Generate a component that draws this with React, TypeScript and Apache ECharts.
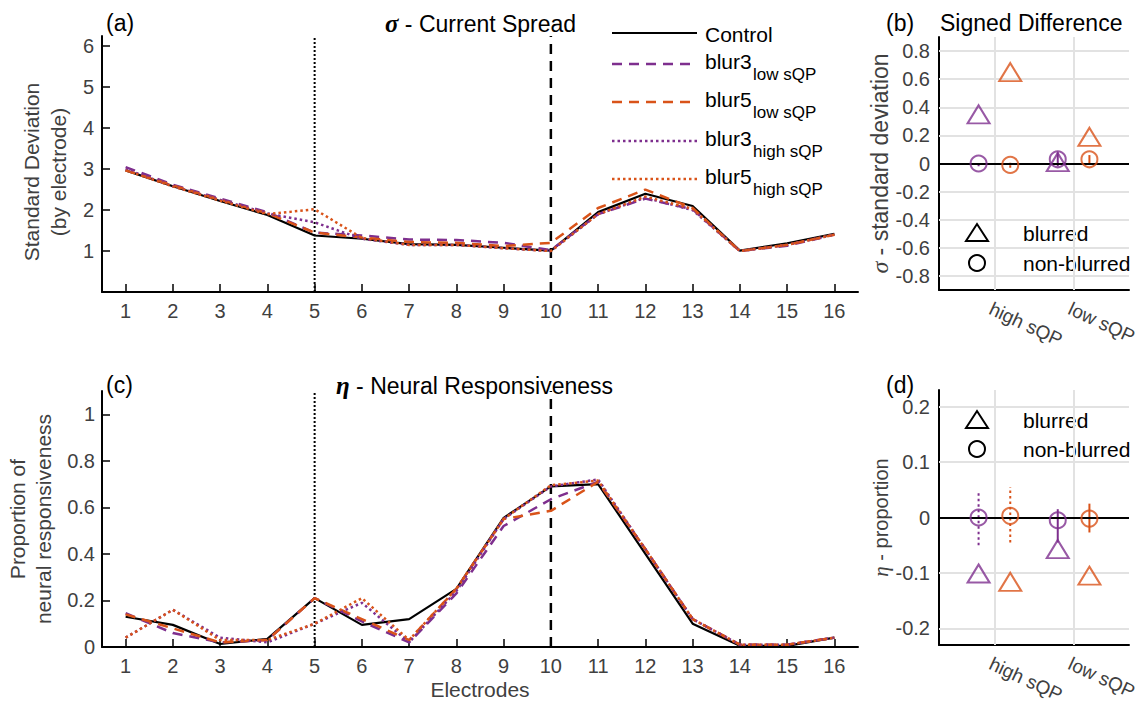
import React, { useEffect, useRef } from "react";
import * as echarts from "echarts";

// ---------- data ----------
const electrodes = [1, 2, 3, 4, 5, 6, 7, 8, 9, 10, 11, 12, 13, 14, 15, 16];
const refElectrodes = [5, 10];

const sigmaControl = [2.97, 2.58, 2.22, 1.88, 1.38, 1.3, 1.17, 1.15, 1.08, 1.01, 1.95, 2.4, 2.1, 1.01, 1.19, 1.42];
const sigmaBlur3Low = [3.05, 2.62, 2.28, 1.95, 1.45, 1.38, 1.28, 1.27, 1.2, 1.02, 1.9, 2.28, 2.02, 1.0, 1.13, 1.4];
const sigmaBlur5Low = [2.97, 2.6, 2.25, 1.92, 1.45, 1.33, 1.22, 1.2, 1.12, 1.2, 2.05, 2.5, 2.05, 1.0, 1.15, 1.4];
const sigmaBlur3High = [3.0, 2.58, 2.25, 1.92, 1.7, 1.3, 1.15, 1.15, 1.07, 1.0, 1.9, 2.3, 2.0, 1.0, 1.15, 1.4];
const sigmaBlur5High = [2.97, 2.58, 2.23, 1.9, 2.02, 1.32, 1.15, 1.15, 1.07, 1.0, 1.9, 2.33, 2.03, 1.0, 1.15, 1.4];

const etaControl = [0.13, 0.095, 0.013, 0.035, 0.21, 0.095, 0.12, 0.25, 0.555, 0.69, 0.7, 0.4, 0.1, 0.005, 0.005, 0.04];
const etaBlur3Low = [0.145, 0.06, 0.02, 0.03, 0.21, 0.11, 0.02, 0.23, 0.52, 0.635, 0.71, 0.42, 0.12, 0.01, 0.01, 0.04];
const etaBlur5Low = [0.14, 0.08, 0.02, 0.03, 0.21, 0.12, 0.03, 0.25, 0.55, 0.585, 0.71, 0.42, 0.12, 0.01, 0.01, 0.04];
const etaBlur3High = [0.04, 0.16, 0.04, 0.02, 0.1, 0.19, 0.02, 0.24, 0.55, 0.69, 0.72, 0.42, 0.12, 0.01, 0.01, 0.04];
const etaBlur5High = [0.04, 0.16, 0.03, 0.03, 0.1, 0.21, 0.03, 0.25, 0.55, 0.695, 0.715, 0.42, 0.12, 0.01, 0.01, 0.04];

const sigmaTicks = [1, 2, 3, 4, 5, 6];
const etaTicks = [0, 0.2, 0.4, 0.6, 0.8, 1];

// signed difference panels
const diffCategories = ["high sQP", "low sQP"];
const diffPositions = [1, 2];
const blur3X = [0.8, 1.8];
const blur5X = [1.2, 2.2];

const sigmaBlurredBlur3 = [0.35, 0.01];
const sigmaBlurredBlur5 = [0.65, 0.19];
const sigmaNonBlurredBlur3 = [0.0, 0.03];
const sigmaNonBlurredBlur5 = [-0.01, 0.03];
const sigmaErrLoBlur3 = [-0.02, -0.02];
const sigmaErrHiBlur3 = [0.02, 0.08];
const sigmaErrLoBlur5 = [-0.03, 0.0];
const sigmaErrHiBlur5 = [0.01, 0.06];
const sigmaDiffTicks = [-0.8, -0.6, -0.4, -0.2, 0, 0.2, 0.4, 0.6, 0.8];

const etaBlurredBlur3 = [-0.101, -0.057];
const etaBlurredBlur5 = [-0.116, -0.105];
const etaNonBlurredBlur3 = [0.0, -0.005];
const etaNonBlurredBlur5 = [0.003, -0.002];
const etaErrLoBlur3 = [-0.05, -0.045];
const etaErrHiBlur3 = [0.045, 0.015];
const etaErrLoBlur5 = [-0.045, -0.027];
const etaErrHiBlur5 = [0.055, 0.025];
const etaDiffTicks = [-0.2, -0.1, 0, 0.1, 0.2];

// ---------- styles ----------
const PURPLE = "#7E2F8E";
const ORANGE = "#D95319";
const TICK_COLOR = "#404040";
const FONT = "'Liberation Sans', Arial, Helvetica, sans-serif";
const SERIF = "'Liberation Serif', 'DejaVu Serif', serif";
const DASH = [10, 7];
const DOT = [2.5, 3];
const TICK_FS = 20;

const fmtNum = (v: number) => {
  const r = Math.round(v * 100) / 100;
  return r === 0 ? "0" : String(r);
};

function lineSeries(name: string, vals: number[], color: string, type: any, xi: number, yi: number, width = 2.5) {
  return {
    name,
    type: "line",
    xAxisIndex: xi,
    yAxisIndex: yi,
    data: electrodes.map((e, i) => [e, vals[i]]),
    showSymbol: false,
    symbol: "none",
    lineStyle: { color, width, type },
    z: 3,
    silent: true,
  };
}

function refLine(x: number, yMin: number, yMax: number, type: any, width: number, xi: number, yi: number) {
  return {
    type: "line",
    xAxisIndex: xi,
    yAxisIndex: yi,
    data: [
      [x, yMin],
      [x, yMax],
    ],
    showSymbol: false,
    symbol: "none",
    lineStyle: { color: "#000", width, type },
    z: 2,
    silent: true,
  };
}

function markers(xs: number[], ys: number[], symbol: string, color: string, xi: number, yi: number) {
  return {
    type: "scatter",
    xAxisIndex: xi,
    yAxisIndex: yi,
    data: xs.map((x, i) => [x, ys[i]]),
    symbol,
    symbolSize: symbol === "triangle" ? [22, 18] : 16,
    itemStyle: { color: "rgba(0,0,0,0)", borderColor: color, borderWidth: 2 },
    z: 5,
    silent: true,
  };
}

function errBar(x: number, lo: number, hi: number, color: string, type: any, xi: number, yi: number) {
  return {
    type: "line",
    xAxisIndex: xi,
    yAxisIndex: yi,
    data: [
      [x, lo],
      [x, hi],
    ],
    showSymbol: false,
    symbol: "none",
    lineStyle: { color, width: 2, type },
    z: 4,
    silent: true,
  };
}

function gridLines(xi: number, yi: number, yTicks: number[]) {
  return [
    {
      type: "line",
      xAxisIndex: xi,
      yAxisIndex: yi,
      data: [],
      z: 1,
      silent: true,
      markLine: {
        silent: true,
        symbol: ["none", "none"],
        label: { show: false },
        lineStyle: { color: "#e2e2e2", width: 2, type: "solid" },
        data: [
          ...yTicks.filter((v) => v !== 0).map((v) => ({ yAxis: v })),
          ...diffPositions.map((v) => ({ xAxis: v })),
        ],
      },
    },
    {
      type: "line",
      xAxisIndex: xi,
      yAxisIndex: yi,
      data: [],
      z: 3,
      silent: true,
      markLine: {
        silent: true,
        symbol: ["none", "none"],
        label: { show: false },
        lineStyle: { color: "#000", width: 2, type: "solid" },
        data: [{ yAxis: 0 }],
      },
    },
  ];
}

const axisLine = { onZero: false, lineStyle: { color: "#000", width: 2 } };

function electrodeXAxis(gridIndex: number, withName: boolean) {
  return {
    gridIndex,
    type: "value",
    min: 0.5,
    max: 16.5,
    axisLine,
    axisTick: { inside: true, length: 8, lineStyle: { color: "#000", width: 1.5 }, customValues: electrodes },
    axisLabel: { customValues: electrodes, color: TICK_COLOR, fontSize: TICK_FS, margin: 9, fontFamily: FONT },
    splitLine: { show: false },
    ...(withName
      ? {
          name: "Electrodes",
          nameLocation: "middle",
          nameGap: 32,
          nameTextStyle: { fontSize: 21, color: TICK_COLOR, fontFamily: FONT },
        }
      : {}),
  };
}

function diffXAxis(gridIndex: number) {
  return {
    gridIndex,
    type: "value",
    min: 0.3,
    max: 2.7,
    axisLine,
    axisTick: { inside: true, length: 6, lineStyle: { color: "#000", width: 1.5 }, customValues: diffPositions },
    axisLabel: {
      customValues: diffPositions,
      formatter: (v: number) => diffCategories[diffPositions.indexOf(Math.round(v))] || "",
      rotate: -25,
      align: "left",
      verticalAlign: "top",
      color: TICK_COLOR,
      fontSize: 19,
      margin: 9,
      fontFamily: FONT,
    },
    splitLine: { show: false },
  };
}

function legendText(x: number, y: number, main: string, sub: string) {
  const els: any[] = [
    {
      type: "text",
      x,
      y: y - 3,
      style: { text: main, fontSize: 21, fontFamily: FONT, fill: "#000", textVerticalAlign: "middle" },
    },
  ];
  if (sub) {
    els.push({
      type: "text",
      x: x + 48,
      y: y + 10,
      style: { text: sub, fontSize: 17, fontFamily: FONT, fill: "#000", textVerticalAlign: "middle" },
    });
  }
  return els;
}

function buildOption() {
  const series: any[] = [
    // panel (a)
    refLine(refElectrodes[0], 0, 6.25, [2, 2], 2, 0, 0),
    refLine(refElectrodes[1], 0, 6.25, [10, 7], 2.5, 0, 0),
    lineSeries("Control", sigmaControl, "#000", "solid", 0, 0, 2.2),
    lineSeries("blur3 low sQP", sigmaBlur3Low, PURPLE, DASH, 0, 0),
    lineSeries("blur5 low sQP", sigmaBlur5Low, ORANGE, DASH, 0, 0),
    lineSeries("blur3 high sQP", sigmaBlur3High, PURPLE, DOT, 0, 0),
    lineSeries("blur5 high sQP", sigmaBlur5High, ORANGE, DOT, 0, 0),
    // panel (c)
    refLine(refElectrodes[0], 0, 1.1, [2, 2], 2, 2, 2),
    refLine(refElectrodes[1], 0, 1.1, [10, 7], 2.5, 2, 2),
    lineSeries("Control", etaControl, "#000", "solid", 2, 2, 2.2),
    lineSeries("blur3 low sQP", etaBlur3Low, PURPLE, DASH, 2, 2),
    lineSeries("blur5 low sQP", etaBlur5Low, ORANGE, DASH, 2, 2),
    lineSeries("blur3 high sQP", etaBlur3High, PURPLE, DOT, 2, 2),
    lineSeries("blur5 high sQP", etaBlur5High, ORANGE, DOT, 2, 2),
    // panel (b)
    ...gridLines(1, 1, sigmaDiffTicks),
    ...blur3X.map((x, i) => errBar(x, sigmaErrLoBlur3[i], sigmaErrHiBlur3[i], PURPLE, i === 0 ? DOT : "solid", 1, 1)),
    ...blur5X.map((x, i) => errBar(x, sigmaErrLoBlur5[i], sigmaErrHiBlur5[i], ORANGE, i === 0 ? DOT : "solid", 1, 1)),
    markers(blur3X, sigmaBlurredBlur3, "triangle", PURPLE, 1, 1),
    markers(blur5X, sigmaBlurredBlur5, "triangle", ORANGE, 1, 1),
    markers(blur3X, sigmaNonBlurredBlur3, "circle", PURPLE, 1, 1),
    markers(blur5X, sigmaNonBlurredBlur5, "circle", ORANGE, 1, 1),
    // panel (d)
    ...gridLines(3, 3, etaDiffTicks),
    ...blur3X.map((x, i) => errBar(x, etaErrLoBlur3[i], etaErrHiBlur3[i], PURPLE, i === 0 ? DOT : "solid", 3, 3)),
    ...blur5X.map((x, i) => errBar(x, etaErrLoBlur5[i], etaErrHiBlur5[i], ORANGE, i === 0 ? DOT : "solid", 3, 3)),
    markers(blur3X, etaBlurredBlur3, "triangle", PURPLE, 3, 3),
    markers(blur5X, etaBlurredBlur5, "triangle", ORANGE, 3, 3),
    markers(blur3X, etaNonBlurredBlur3, "circle", PURPLE, 3, 3),
    markers(blur5X, etaNonBlurredBlur5, "circle", ORANGE, 3, 3),
  ];

  const legendRows = [33, 64, 102, 141, 179];
  const legendItems = [
    { color: "#000", type: null, main: "Control", sub: "" },
    { color: PURPLE, type: DASH, main: "blur3", sub: "low sQP" },
    { color: ORANGE, type: DASH, main: "blur5", sub: "low sQP" },
    { color: PURPLE, type: DOT, main: "blur3", sub: "high sQP" },
    { color: ORANGE, type: DOT, main: "blur5", sub: "high sQP" },
  ];
  const graphic: any[] = [];
  legendItems.forEach((it, i) => {
    const y = legendRows[i];
    graphic.push({
      type: "line",
      shape: { x1: 612, y1: y, x2: 697, y2: y },
      style: { stroke: it.color, lineWidth: i === 0 ? 2.2 : 2.5, lineDash: it.type || null },
    });
    graphic.push(...legendText(705, i === 0 ? y + 4 : y, it.main, it.sub));
  });

  // marker legends for (b) and (d)
  const markerLegend = (ty: number, cy: number) => [
    {
      type: "polygon",
      shape: { points: [[966, ty + 8], [988, ty + 8], [977, ty - 9]] },
      style: { fill: "none", stroke: "#000", lineWidth: 2 },
    },
    { type: "circle", shape: { cx: 977, cy, r: 8 }, style: { fill: "none", stroke: "#000", lineWidth: 2 } },
    {
      type: "text",
      x: 1023,
      y: ty,
      style: { text: "blurred", fontSize: 21, fontFamily: FONT, fill: "#000", textVerticalAlign: "middle" },
    },
    {
      type: "text",
      x: 1023,
      y: cy,
      style: { text: "non-blurred", fontSize: 21, fontFamily: FONT, fill: "#000", textVerticalAlign: "middle" },
    },
  ];
  graphic.push(...markerLegend(233, 263));
  graphic.push(...markerLegend(420, 449));

  const richSym = {
    s: { fontFamily: SERIF, fontStyle: "italic", fontWeight: "bold", fontSize: 25, color: "#000" },
  };
  const richSymAxisB = {
    s: { fontFamily: SERIF, fontStyle: "italic", fontSize: 24, color: TICK_COLOR },
  };
  const richSymAxisD = {
    s: { fontFamily: SERIF, fontStyle: "italic", fontSize: 21, color: TICK_COLOR },
  };

  const titleStyle = { fontSize: 23, fontWeight: "normal", color: "#000", fontFamily: FONT, rich: richSym };

  const grid = (left: number, top: number, width: number, height: number) => ({
    left,
    top,
    width,
    height,
    containLabel: false,
    outerBoundsMode: "none",
  });

  return {
    animation: false,
    backgroundColor: "#fff",
    textStyle: { fontFamily: FONT },
    title: [
      { text: "(a)", left: 101, top: 6, textStyle: titleStyle },
      { text: "{s|σ} - Current Spread", left: 380, top: 6, textStyle: titleStyle },
      { text: "(b)", left: 881, top: 6, textStyle: titleStyle },
      { text: "Signed Difference", left: 935, top: 6, textStyle: titleStyle },
      { text: "(c)", left: 101, top: 368, textStyle: titleStyle },
      { text: "{s|η} - Neural Responsiveness", left: 331, top: 368, textStyle: titleStyle },
      { text: "(d)", left: 881, top: 368, textStyle: titleStyle },
    ],
    grid: [
      grid(102, 36, 756, 256),
      grid(939, 37, 190, 253),
      grid(102, 391, 756, 256),
      grid(939, 390, 190, 255),
    ],
    xAxis: [electrodeXAxis(0, false), diffXAxis(1), electrodeXAxis(2, true), diffXAxis(3)],
    yAxis: [
      {
        gridIndex: 0,
        type: "value",
        min: 0,
        max: 6.25,
        axisLine,
        axisTick: { inside: true, length: 8, lineStyle: { color: "#000", width: 1.5 }, customValues: sigmaTicks },
        axisLabel: { customValues: sigmaTicks, color: TICK_COLOR, fontSize: TICK_FS, margin: 8, fontFamily: FONT },
        splitLine: { show: false },
        name: "Standard Deviation\n(by electrode)",
        nameLocation: "middle",
        nameGap: 20,
        nameTextStyle: { fontSize: 21, color: TICK_COLOR, lineHeight: 27, fontFamily: FONT, padding: [0, 16, 0, 0] },
      },
      {
        gridIndex: 1,
        type: "value",
        min: -0.9,
        max: 0.9,
        axisLine,
        axisTick: { show: false },
        axisLabel: {
          customValues: sigmaDiffTicks,
          formatter: fmtNum,
          color: TICK_COLOR,
          fontSize: TICK_FS,
          margin: 9,
          fontFamily: FONT,
        },
        splitLine: { show: false },
        name: "{s|σ} - standard deviation",
        nameLocation: "middle",
        nameGap: 44,
        nameTextStyle: { fontSize: 23, color: TICK_COLOR, fontFamily: FONT, rich: richSymAxisB },
      },
      {
        gridIndex: 2,
        type: "value",
        min: 0,
        max: 1.1,
        axisLine,
        axisTick: { inside: true, length: 8, lineStyle: { color: "#000", width: 1.5 }, customValues: etaTicks },
        axisLabel: {
          customValues: etaTicks,
          formatter: fmtNum,
          color: TICK_COLOR,
          fontSize: TICK_FS,
          margin: 7,
          fontFamily: FONT,
        },
        splitLine: { show: false },
        name: "Proportion of\nneural responsiveness",
        nameLocation: "middle",
        nameGap: 41,
        nameTextStyle: { fontSize: 21, color: TICK_COLOR, lineHeight: 26, fontFamily: FONT },
      },
      {
        gridIndex: 3,
        type: "value",
        min: -0.23,
        max: 0.23,
        axisLine,
        axisTick: { show: false },
        axisLabel: {
          customValues: etaDiffTicks,
          formatter: fmtNum,
          color: TICK_COLOR,
          fontSize: TICK_FS,
          margin: 9,
          fontFamily: FONT,
        },
        splitLine: { show: false },
        name: "{s|η} - proportion",
        nameLocation: "middle",
        nameGap: 44,
        nameTextStyle: { fontSize: 20, color: TICK_COLOR, fontFamily: FONT, rich: richSymAxisD },
      },
    ],
    series,
    graphic,
  };
}

export default function App() {
  const ref = useRef<HTMLDivElement>(null);
  useEffect(() => {
    if (!ref.current) return;
    const chart = echarts.init(ref.current, null, { renderer: "svg" });
    chart.setOption(buildOption() as any);
    return () => chart.dispose();
  }, []);
  return (
    <div
      ref={ref}
      style={{ position: "absolute", left: 0, top: 0, width: 1143, height: 705, background: "#fff" }}
    />
  );
}
